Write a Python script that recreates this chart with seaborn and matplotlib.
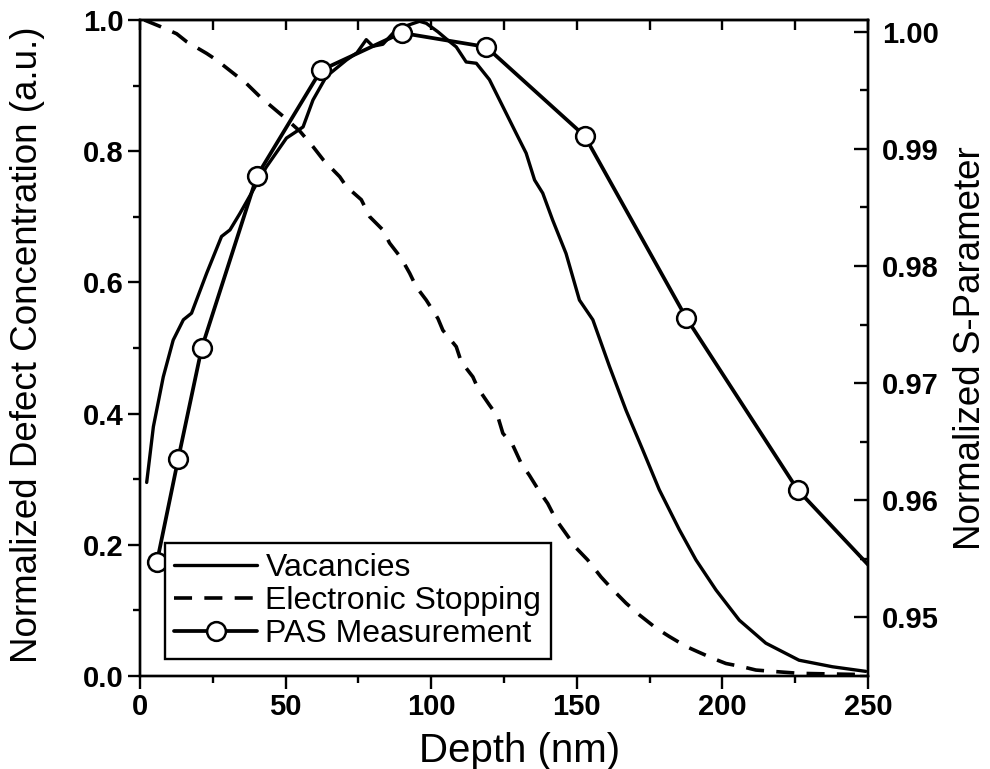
import numpy as np
import pandas as pd
import matplotlib
matplotlib.use("Agg")
import matplotlib.pyplot as plt
import seaborn as sns
from matplotlib.ticker import MultipleLocator, FormatStrFormatter

# ---------------- data ----------------
vac_depth = [2.3, 4.6, 8.0, 11.4, 14.9, 17.7, 19.4, 22.9, 28.0, 30.9, 34.3, 38.9,
             43.4, 50.3, 53.7, 56.0, 59.4, 64.0, 70.9, 74.5, 77.7, 80.0, 83.4,
             86.9, 92.0, 96.0, 98.3, 102.3, 105.5, 108.6, 112.0, 115.5, 120.0,
             124.6, 129.2, 132.6, 135.5, 138.3, 141.7, 146.3, 150.9, 155.5,
             161.2, 166.9, 172.6, 178.3, 185.2, 190.9, 197.8, 205.8, 214.9,
             226.3, 237.8, 249.2]
vac_conc = [0.295, 0.380, 0.456, 0.512, 0.543, 0.553, 0.573, 0.614, 0.670, 0.680,
            0.705, 0.741, 0.776, 0.820, 0.830, 0.837, 0.878, 0.914, 0.939, 0.950,
            0.970, 0.960, 0.963, 0.980, 0.992, 0.998, 0.995, 0.982, 0.970, 0.959,
            0.936, 0.934, 0.909, 0.868, 0.827, 0.797, 0.756, 0.736, 0.695, 0.644,
            0.573, 0.543, 0.472, 0.405, 0.345, 0.284, 0.223, 0.177, 0.131, 0.085,
            0.050, 0.024, 0.014, 0.007]

stop_depth = [1.5, 7.0, 12.6, 16.0, 22.9, 26.3, 32.0, 36.6, 41.2, 45.2, 50.0, 55.0,
              59.4, 62.9, 68.6, 70.9, 76.0, 78.9, 83.4, 85.7, 89.7, 92.6, 94.9,
              98.3, 102.3, 104.0, 108.6, 110.3, 114.3, 116.0, 120.0, 122.9, 124.6,
              128.0, 130.9, 133.7, 137.2, 140.0, 142.9, 145.8, 149.8, 153.7, 158.3,
              161.8, 166.9, 171.5, 177.2, 181.8, 187.5, 191.5, 196.6, 201.2, 206.9,
              211.5, 217.2, 226.3, 237.7, 249.0]
stop_val = [1.000, 0.990, 0.979, 0.967, 0.949, 0.939, 0.919, 0.903, 0.883, 0.868,
            0.850, 0.830, 0.807, 0.787, 0.761, 0.746, 0.726, 0.700, 0.680, 0.660,
            0.637, 0.614, 0.593, 0.573, 0.545, 0.527, 0.502, 0.479, 0.456, 0.439,
            0.413, 0.395, 0.370, 0.352, 0.324, 0.306, 0.281, 0.263, 0.238, 0.220,
            0.195, 0.177, 0.151, 0.134, 0.111, 0.093, 0.073, 0.060, 0.045, 0.037,
            0.027, 0.019, 0.014, 0.009, 0.007, 0.004, 0.003, 0.002]

# PAS measurement (S-parameter); last entry is where the line leaves the frame
pas_depth = [5.8, 13.1, 21.2, 40.2, 62.1, 89.8, 118.9, 152.7, 187.5, 225.8, 250.0]
pas_s = [0.9547, 0.9635, 0.9730, 0.9877, 0.9967, 0.9999, 0.9987, 0.9911,
         0.9756, 0.9609, 0.9545]

x_ticks = [0, 50, 100, 150, 200, 250]
left_ticks = [0.0, 0.2, 0.4, 0.6, 0.8, 1.0]
right_ticks = [0.95, 0.96, 0.97, 0.98, 0.99, 1.00]

vac_df = pd.DataFrame({"depth": vac_depth, "value": vac_conc})
stop_df = pd.DataFrame({"depth": stop_depth, "value": stop_val})
pas_df = pd.DataFrame({"depth": pas_depth, "s": pas_s})

# ---------------- style ----------------
sns.set_style("ticks")
plt.rcParams["font.family"] = ["Liberation Sans", "DejaVu Sans"]
plt.rcParams["axes.linewidth"] = 1.6
for key in ["text.color", "axes.labelcolor", "xtick.color", "ytick.color",
            "axes.edgecolor"]:
    plt.rcParams[key] = "black"

fig = plt.figure(figsize=(9.9, 7.69), dpi=100)
ax = fig.add_axes([0.1414, 0.121, 0.7354, 0.853])
ax2 = ax.twinx()

sns.lineplot(data=vac_df, x="depth", y="value", ax=ax, color="black",
             linewidth=2.4, sort=False, errorbar=None, label="Vacancies",
             legend=False)
sns.lineplot(data=stop_df, x="depth", y="value", ax=ax, color="black",
             linewidth=2.6, sort=False, errorbar=None,
             label="Electronic Stopping", legend=False)
ax.lines[-1].set_dashes([5.0, 3.4])

sns.lineplot(data=pas_df, x="depth", y="s", ax=ax2, color="black",
             linewidth=2.7, sort=False, errorbar=None, marker="o",
             markersize=13.5, markerfacecolor="white", markeredgecolor="black",
             markeredgewidth=1.8, markevery=list(range(len(pas_depth) - 1)),
             label="PAS Measurement", legend=False)

# ---------------- axes ----------------
ax.set_xlim(0, 250)
ax.set_ylim(0, 1.0)
ax2.set_ylim(0.945, 1.001)

ax.set_xticks(x_ticks)
ax.set_yticks(left_ticks)
ax.xaxis.set_minor_locator(MultipleLocator(25))
ax.yaxis.set_minor_locator(MultipleLocator(0.1))
ax.yaxis.set_major_formatter(FormatStrFormatter("%.1f"))
ax2.set_yticks(right_ticks)
ax2.yaxis.set_minor_locator(MultipleLocator(0.005))
ax2.yaxis.set_major_formatter(FormatStrFormatter("%.2f"))

ax.tick_params(axis="both", which="major", direction="out", length=9,
               width=1.7, labelsize=21, pad=3, colors="black")
ax.tick_params(axis="both", which="minor", direction="out", length=5,
               width=1.7, colors="black")
ax2.tick_params(axis="y", which="major", direction="in", length=10,
                width=1.7, labelsize=21, pad=10, colors="black")
ax2.tick_params(axis="y", which="minor", direction="in", length=6, width=1.7,
                colors="black")

for lab in ax.get_xticklabels() + ax.get_yticklabels() + ax2.get_yticklabels():
    lab.set_fontweight("bold")

top = ax.secondary_xaxis("top")
top.xaxis.set_major_locator(MultipleLocator(25))
top.tick_params(direction="in", length=7, width=1.7, labeltop=False,
                colors="black")

for sp in list(ax.spines.values()) + list(ax2.spines.values()):
    sp.set_linewidth(1.7)
    sp.set_color("black")

ax.set_xlabel("Depth (nm)", fontsize=29, color="black")
ax.xaxis.set_label_coords(0.522, -0.086)
ax.set_ylabel("Normalized Defect Concentration (a.u.)", fontsize=26.5,
              color="black")
ax.yaxis.set_label_coords(-0.131, 0.505)
ax2.set_ylabel("Normalized S-Parameter", fontsize=26.5, labelpad=10,
               color="black")

# ---------------- legend ----------------
handles = ax.lines[:2] + ax2.lines[:1]
labels = ["Vacancies", "Electronic Stopping", "PAS Measurement"]
leg = ax2.legend(handles, labels, loc="lower left",
                 bbox_to_anchor=(0.034, 0.026), fontsize=23, frameon=True,
                 fancybox=False, framealpha=1, edgecolor="black",
                 borderpad=0.3, labelspacing=0.1, handlelength=2.6,
                 handletextpad=0.25, borderaxespad=0)
leg.get_frame().set_linewidth(1.7)
for t in leg.get_texts():
    t.set_color("black")

fig.savefig("out.png", dpi=100)
